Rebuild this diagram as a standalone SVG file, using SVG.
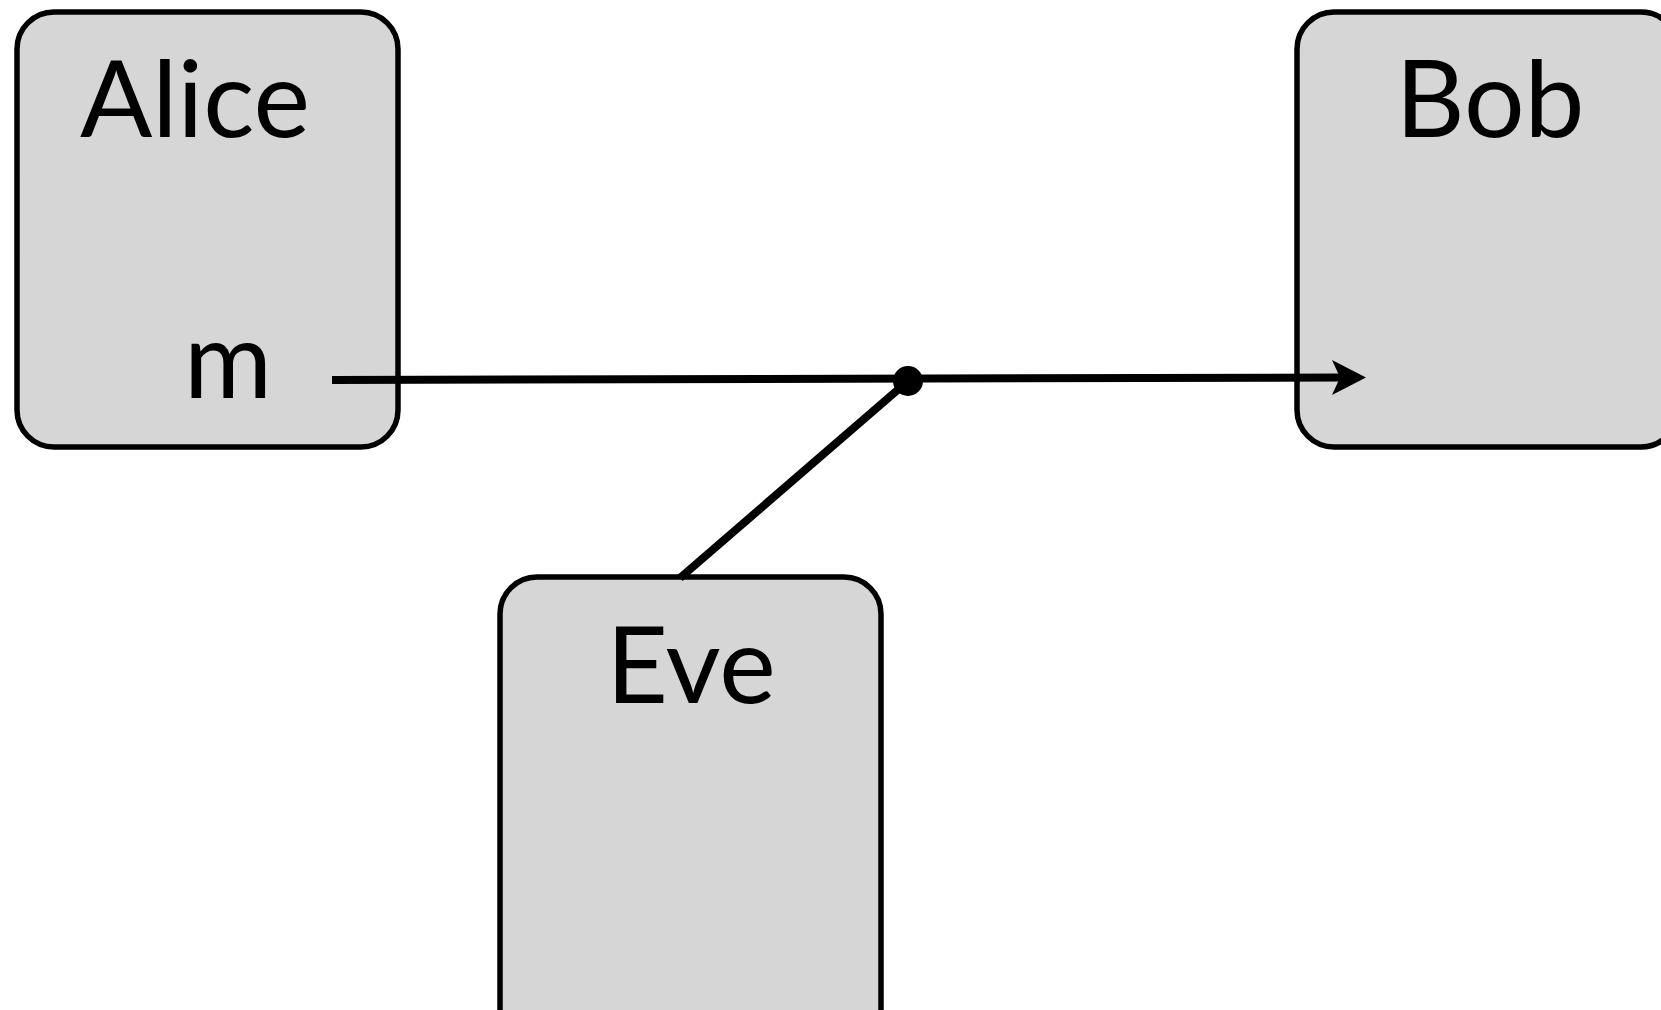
<svg xmlns="http://www.w3.org/2000/svg" width="1661" height="1010" viewBox="0 0 1661 1010">
  <style>
    .box { fill: #d6d6d6; stroke: #000; stroke-width: 5.5; }
    .label { font-family: Lato, "Liberation Sans", sans-serif; font-size: 107px; fill: #000; text-anchor: middle; }
    .wire { stroke: #000; stroke-width: 8; fill: none; }
    .head { fill: #000; }
  </style>
  <rect width="1661" height="1010" fill="#fff"/>

  <g id="alice">
    <rect class="box" x="17" y="12" width="381" height="435" rx="37"/>
    <text class="label" x="195" y="137">Alice</text>
    <text class="label" x="228" y="398">m</text>
  </g>

  <g id="bob">
    <rect class="box" x="1297" y="12" width="381" height="435" rx="37"/>
    <text class="label" x="1490" y="137">Bob</text>
  </g>

  <g id="eve">
    <rect class="box" x="500" y="577" width="381" height="470" rx="37"/>
    <text class="label" x="691" y="703">Eve</text>
  </g>

  <g id="connectors">
    <!-- message m from Alice to Bob, ending in a notched arrowhead -->
    <line class="wire" x1="332" y1="380" x2="1342" y2="377.6"/>
    <polygon class="head" points="1332,360 1366,377.5 1332,395 1340,377.5"/>
    <!-- Eve's tap on the channel -->
    <line class="wire" x1="908" y1="381" x2="680" y2="578"/>
    <circle cx="908" cy="381" r="15" fill="#000"/>
  </g>
</svg>
